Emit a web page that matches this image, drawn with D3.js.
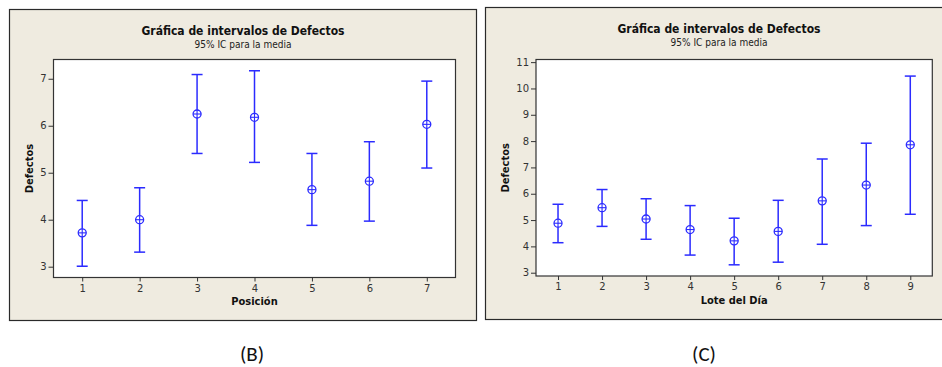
<!DOCTYPE html>
<html>
<head>
<meta charset="utf-8">
<script src="https://cdn.jsdelivr.net/npm/d3@7"></script>
<style>
  body { margin: 0; background: #fff; }
  svg { display: block; }
  .tick text { font-family: Tahoma, "DejaVu Sans", sans-serif; font-size: 10px; fill: #333; }
  .tick line { stroke: #333; }
</style>
</head>
<body>
<div id="chart"></div>
<script>
// Panel B: Posición
const posiciones = [1, 2, 3, 4, 5, 6, 7];
const mediasB = [3.72, 4.00, 6.25, 6.18, 4.64, 4.82, 6.03];
const superiorB = [4.41, 4.68, 7.09, 7.17, 5.41, 5.66, 6.95];
const inferiorB = [3.01, 3.31, 5.41, 5.22, 3.88, 3.97, 5.10];
const ticksB = [3, 4, 5, 6, 7];

// Panel C: Lote del Día
const lotes = [1, 2, 3, 4, 5, 6, 7, 8, 9];
const mediasC = [4.88, 5.47, 5.04, 4.64, 4.21, 4.57, 5.73, 6.33, 7.86];
const superiorC = [5.60, 6.16, 5.81, 5.55, 5.07, 5.75, 7.32, 7.92, 10.47];
const inferiorC = [4.14, 4.76, 4.27, 3.67, 3.30, 3.40, 4.08, 4.79, 5.22];
const ticksC = [3, 4, 5, 6, 7, 8, 9, 10, 11];

const titulo = 'Gráfica de intervalos de Defectos';
const subtitulo = '95% IC para la media';
const blue = '#2b2bff';

const svg = d3.select('#chart').append('svg')
  .attr('width', 942)
  .attr('height', 367);

function panel(cfg) {
  const g = svg.append('g');
  // outer frame
  g.append('rect')
    .attr('x', cfg.frame[0]).attr('y', cfg.frame[1])
    .attr('width', cfg.frame[2]).attr('height', cfg.frame[3])
    .attr('fill', '#efebe0').attr('stroke', '#2a2a2a').attr('stroke-width', 1.2);

  g.append('text')
    .attr('x', cfg.titleX).attr('y', cfg.titleY)
    .attr('text-anchor', 'middle')
    .style('font-family', 'Tahoma, "DejaVu Sans Condensed", "DejaVu Sans", sans-serif')
    .style('font-weight', 'bold').style('font-size', '12px').style('fill', '#111')
    .text(titulo);
  g.append('text')
    .attr('x', cfg.titleX).attr('y', cfg.titleY + 13)
    .attr('text-anchor', 'middle')
    .style('font-family', 'Tahoma, "DejaVu Sans Condensed", "DejaVu Sans", sans-serif')
    .style('font-size', '10px').style('fill', '#222')
    .text(subtitulo);

  const [x0, y0, x1, y1] = cfg.plot;
  const x = d3.scaleLinear().domain(cfg.xDomain).range([x0, x1]);
  const y = d3.scaleLinear().domain(cfg.yDomain).range([y1, y0]);

  g.append('rect')
    .attr('x', x0).attr('y', y0)
    .attr('width', x1 - x0).attr('height', y1 - y0)
    .attr('fill', '#fff').attr('stroke', '#333').attr('stroke-width', 1.2);

  g.append('g')
    .attr('transform', 'translate(' + x0 + ',0)')
    .call(d3.axisLeft(y).tickValues(cfg.yTicks).tickFormat(d3.format('d'))
      .tickSize(5).tickSizeOuter(0).tickPadding(2))
    .call(a => a.select('.domain').remove());
  g.append('g')
    .attr('transform', 'translate(0,' + y1 + ')')
    .call(d3.axisBottom(x).tickValues(cfg.cats).tickFormat(d3.format('d'))
      .tickSize(4).tickSizeOuter(0).tickPadding(3))
    .call(a => a.select('.domain').remove());

  g.append('text')
    .attr('transform', 'translate(' + cfg.yLabelX + ',' + ((y0 + y1) / 2) + ') rotate(-90)')
    .attr('text-anchor', 'middle').attr('dy', '0.35em')
    .style('font-family', 'Tahoma, "DejaVu Sans Condensed", "DejaVu Sans", sans-serif')
    .style('font-weight', 'bold').style('font-size', '11px').style('fill', '#111')
    .text('Defectos');
  g.append('text')
    .attr('x', (x0 + x1) / 2).attr('y', cfg.xLabelY)
    .attr('text-anchor', 'middle').attr('dy', '0.35em')
    .style('font-family', 'Tahoma, "DejaVu Sans Condensed", "DejaVu Sans", sans-serif')
    .style('font-weight', 'bold').style('font-size', '11px').style('fill', '#111')
    .text(cfg.xLabel);

  const rows = cfg.cats.map((c, i) => ({ c, m: cfg.medias[i], hi: cfg.sup[i], lo: cfg.inf[i] }));
  const bars = g.append('g').selectAll('g').data(rows).join('g')
    .attr('stroke', blue).attr('stroke-width', 1.5).attr('fill', 'none');
  bars.append('line')
    .attr('x1', d => x(d.c)).attr('x2', d => x(d.c))
    .attr('y1', d => y(d.hi)).attr('y2', d => y(d.lo));
  bars.append('line')
    .attr('x1', d => x(d.c) - 5.5).attr('x2', d => x(d.c) + 5.5)
    .attr('y1', d => y(d.hi)).attr('y2', d => y(d.hi));
  bars.append('line')
    .attr('x1', d => x(d.c) - 5.5).attr('x2', d => x(d.c) + 5.5)
    .attr('y1', d => y(d.lo)).attr('y2', d => y(d.lo));
  bars.append('circle')
    .attr('cx', d => x(d.c)).attr('cy', d => y(d.m)).attr('r', 4)
    .attr('fill', '#fff').attr('stroke-width', 1.3);
  bars.append('line')
    .attr('x1', d => x(d.c) - 4).attr('x2', d => x(d.c) + 4)
    .attr('y1', d => y(d.m)).attr('y2', d => y(d.m)).attr('stroke-width', 1.1);
  bars.append('line')
    .attr('x1', d => x(d.c)).attr('x2', d => x(d.c))
    .attr('y1', d => y(d.m) - 4).attr('y2', d => y(d.m) + 4).attr('stroke-width', 1.1);

  svg.append('text')
    .attr('x', cfg.tagX).attr('y', 361)
    .attr('text-anchor', 'middle')
    .style('font-family', 'Carlito, Lato, "Open Sans", sans-serif')
    .style('font-size', '21px').style('fill', '#111')
    .text(cfg.tag);
}

panel({
  frame: [9.5, 9.5, 467, 311],
  titleX: 243, titleY: 35,
  plot: [53.5, 59.5, 455.5, 277.5],
  xDomain: [0.5, 7.5], yDomain: [2.77, 7.41],
  cats: posiciones, medias: mediasB, sup: superiorB, inf: inferiorB,
  yTicks: ticksB,
  yLabelX: 29, xLabelY: 301.5, xLabel: 'Posición',
  tagX: 252, tag: '(B)'
});

panel({
  frame: [485.5, 7.5, 470, 312],
  titleX: 719, titleY: 33,
  plot: [536, 59.5, 932.3, 276],
  xDomain: [0.5, 9.5], yDomain: [2.875, 11.1],
  cats: lotes, medias: mediasC, sup: superiorC, inf: inferiorC,
  yTicks: ticksC,
  yLabelX: 505, xLabelY: 300.5, xLabel: 'Lote del Día',
  tagX: 704, tag: '(C)'
});
</script>
</body>
</html>
